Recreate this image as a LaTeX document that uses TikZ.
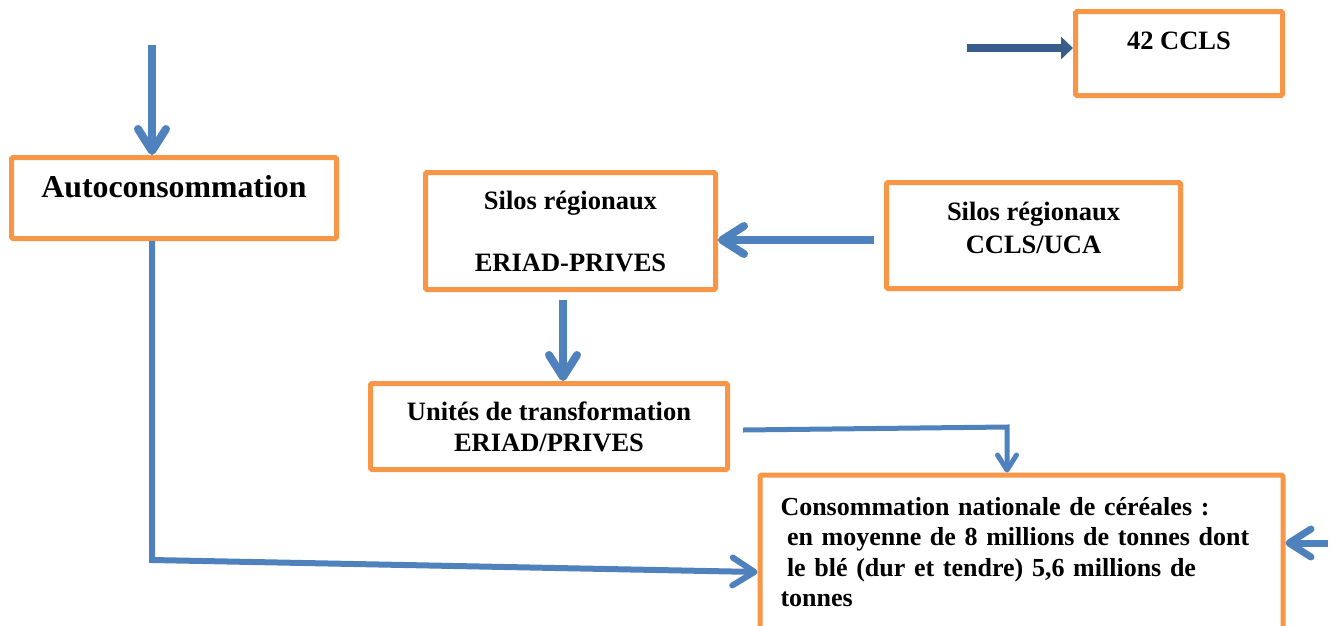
\documentclass[tikz,border=0pt]{standalone}
\usepackage{fontspec}
\setmainfont{Liberation Serif}
\usetikzlibrary{arrows.meta}
\definecolor{boxorange}{HTML}{F79646}
\definecolor{flowblue}{HTML}{4F81BD}
\definecolor{darkblue}{HTML}{385D8A}
\begin{document}
\begin{tikzpicture}[x=1pt, y=-1pt,
    box/.style = {draw=boxorange, line width=5pt, rounded corners=1.5pt, align=center, inner sep=0pt,
                  font=\bfseries\fontsize{26.5}{31}\selectfont},
    flow/.style = {draw=flowblue, line width=8pt, -{Straight Barb[length=22pt, width=28pt, round]}},
    thinflow/.style = {flow, line width=5pt, -{Straight Barb[length=15pt, width=19pt, round]}}]
    \useasboundingbox (0,0) rectangle (1336,625);
    \clip (0,0) rectangle (1336,625);
    % boxes
    \node[box, minimum width=325pt, minimum height=81pt, font=\bfseries\fontsize{31.8}{38}\selectfont] (auto) at (174,198) {Autoconsommation\\[-14pt]~};
    \node[box, minimum width=207pt, minimum height=84pt] (ccls) at (1179,53.5) {42 CCLS\\[-6pt]~};
    \node[box, minimum width=290pt, minimum height=117pt] (silosE) at (570.5,231) {Silos régionaux\\[31pt]ERIAD-PRIVES};
    \node[box, minimum width=294pt, minimum height=106pt] (silosC) at (1033.5,235.5) {Silos régionaux\\[2pt]CCLS/UCA\\[-15pt]~};
    \node[box, minimum width=357pt, minimum height=86pt] (unites) at (549,426.5) {Unités de transformation\\ERIAD/PRIVES};
    \node[box, anchor=north west, align=left, text width=482pt, inner xsep=20.5pt, inner ysep=22pt, text depth=150pt,
          font=\bfseries\fontsize{26}{30.5}\selectfont] (conso) at (757.5,472.5)
          {Consommation nationale de céréales :\\
           \hspace*{.25em}en moyenne de 8 millions de tonnes dont\\
           \hspace*{.25em}le blé (dur et tendre) 5,6 millions de\\
           tonnes};
    % free ends and bends
    \coordinate (autoin) at (152,45);
    \coordinate (corner) at (152,560);
    \coordinate (cclsin) at (967,48);
    \coordinate (ucaout) at (874,240);
    \coordinate (eriadout) at (563,300);
    \coordinate (unitesout) at (743,430);
    \coordinate (bend) at (1007,427);
    \coordinate (consoin) at (1328,543);
    % arrows
    \draw[flow] (autoin) -- (autoin |- auto.north);
    \draw[flow, line width=6pt] (autoin |- auto.south) -- (corner) -- (conso.west |- 0,572);
    \draw[darkblue, line width=8pt, -{Triangle[length=12pt, width=22pt]}] (cclsin) -- (cclsin -| ccls.west);
    \draw[flow] (ucaout) -- (ucaout -| silosE.east);
    \draw[flow] (eriadout) -- (eriadout |- unites.north);
    \draw[thinflow] (unitesout) -- (bend) -- (bend |- conso.north);
    \draw[flow, line width=7pt] (consoin) -- (consoin -| conso.east);
\end{tikzpicture}
\end{document}
